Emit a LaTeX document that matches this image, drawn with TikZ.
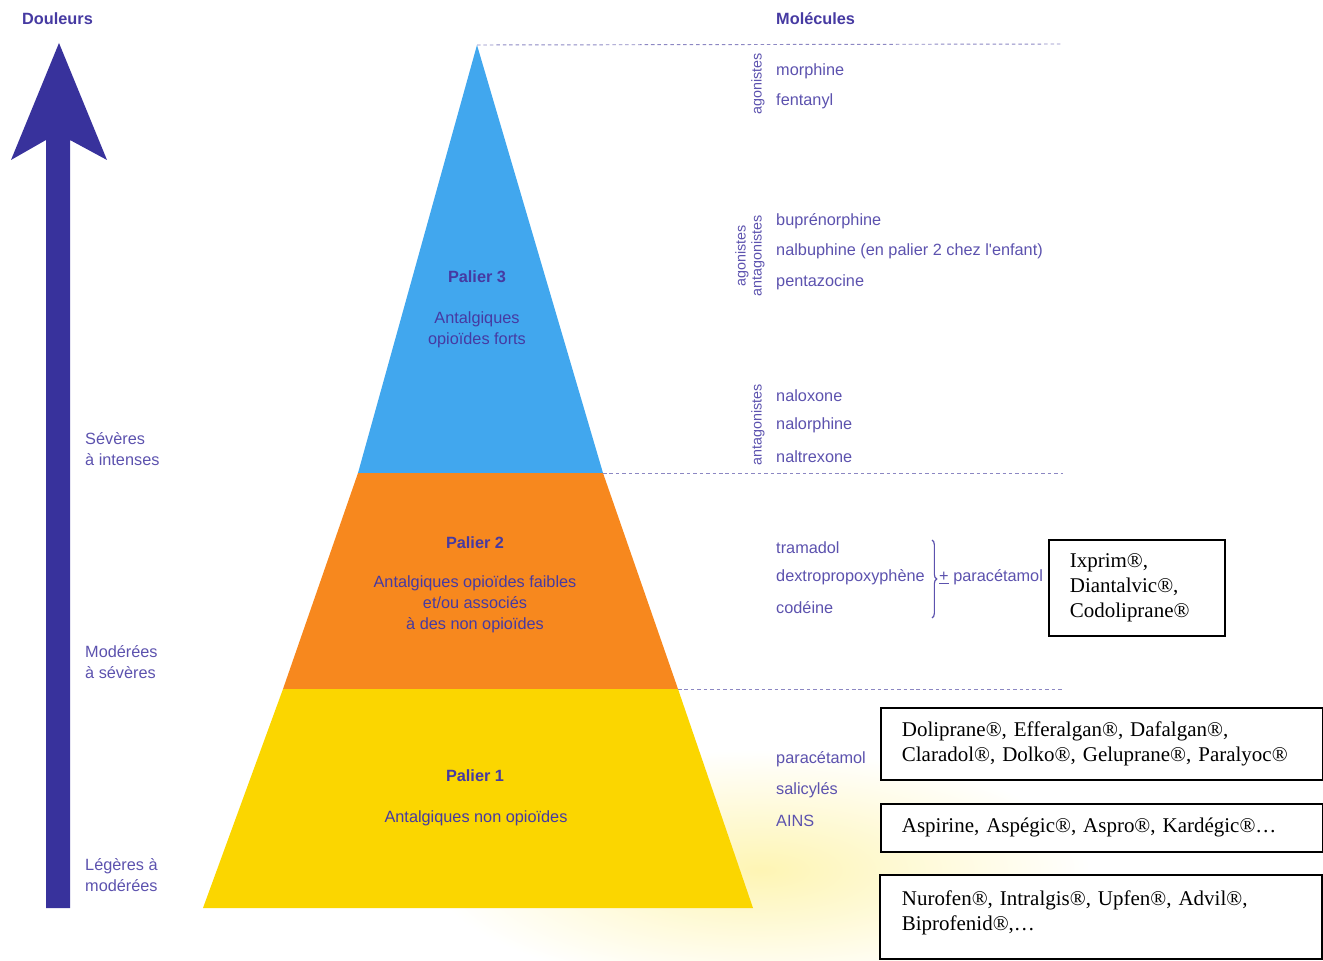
\documentclass[tikz,border=0pt]{standalone}
\usepackage{fontspec}
\setmainfont{Liberation Serif}
\setsansfont{Liberation Sans}
\usepackage{tikz}
\usetikzlibrary{decorations.pathreplacing}

\definecolor{arrowblue}{RGB}{56,50,156}
\definecolor{bluetier}{RGB}{65,167,238}
\definecolor{orangetier}{RGB}{247,136,30}
\definecolor{yellowtier}{RGB}{251,214,0}
\definecolor{glowyellow}{RGB}{254,245,180}
\definecolor{labcol}{RGB}{70,58,162}
\definecolor{molcol}{RGB}{92,82,174}
\definecolor{dashcol}{RGB}{140,135,195}

\newcommand{\molfnt}{\sffamily\fontsize{13.9}{17.9}\selectfont}
\newcommand{\rotfnt}{\sffamily\fontsize{12.2}{13.7}\selectfont}
\newcommand{\rxfnt}{\rmfamily\fontsize{17.9}{21.3}\selectfont}

\begin{document}
\begin{tikzpicture}[x=0.03cm, y=-0.03cm,
	molitem/.style={anchor=west, inner sep=0pt, yshift=-0.05cm, text=molcol, font=\molfnt},
	rotlbl/.style={rotate=90, inner sep=0pt, text=molcol, font=\rotfnt, align=center},
	paltitle/.style={inner sep=0pt, text=labcol, font=\molfnt\bfseries},
	paltext/.style={inner sep=0pt, text=labcol, font=\molfnt, align=center},
	sidelbl/.style={anchor=west, inner sep=0pt, text=molcol, font=\molfnt, align=left},
	colhead/.style={anchor=west, inner sep=0pt, text=labcol, font=\molfnt\bfseries},
	rxbox/.style={draw, line width=1.5pt, fill=white, anchor=north west, align=left, font=\rxfnt, inner xsep=0.63cm, inner ysep=2pt},
	dashln/.style={dashcol, dash pattern=on 3pt off 2.5pt, line width=0.8pt}]
	\useasboundingbox (0,0) rectangle (1323,961);

	% halo jaune
	\shade[inner color=glowyellow, outer color=white] (760,870) ellipse (330 and 120);

	% fleche douleurs
	\fill[arrowblue] (59,43) -- (107,160) -- (70,140) -- (70,908) -- (46,908) -- (46,140) -- (11,160) -- cycle;
	\node (douleurs) at (22,19) [colhead] {Douleurs};
	\node (severes) at (85,449) [sidelbl] {Sévères\\à intenses};
	\node (moderees) at (85,662) [sidelbl] {Modérées\\à sévères};
	\node (legeres) at (85,875) [sidelbl] {Légères à\\modérées};

	% pyramide
	\coordinate (ap) at (477,45);
	\coordinate (b3l) at (358,473);
	\coordinate (b3r) at (603,473);
	\coordinate (b2l) at (283,689);
	\coordinate (b2r) at (678,689);
	\coordinate (b1l) at (203,908);
	\coordinate (b1r) at (753,908);
	\fill[bluetier] (ap) -- (b3r) -- (b3l) -- cycle;
	\fill[orangetier] (b3l) -- (b3r) -- (b2r) -- (b2l) -- cycle;
	\fill[yellowtier] (b2l) -- (b2r) -- (b1r) -- (b1l) -- cycle;

	\node (p3) at (477,277) [paltitle] {Palier 3};
	\node (p3t) at (477,329.5) [paltext] {Antalgiques\\opioïdes forts};
	\node (p2) at (475,543) [paltitle] {Palier 2};
	\node (p2t) at (475,604.5) [paltext] {Antalgiques opioïdes faibles\\et/ou associés\\à des non opioïdes};
	\node (p1) at (475,776) [paltitle] {Palier 1};
	\node (p1t) at (476,818) [paltext] {Antalgiques non opioïdes};

	% separations
	\coordinate (d3) at (1063,44);
	\coordinate (d2) at (1063,473);
	\coordinate (d1) at (1063,689);
	\draw[dashln] (ap) -- (d3);
	\draw[dashln] (b3r) -- (d2);
	\draw[dashln] (b2r) -- (d1);

	% molecules
	\node (molec) at (776,19) [colhead] {Molécules};
	\node (ago) at (758,84) [rotlbl] {agonistes};
	\node (morph) at (776,70) [molitem] {morphine};
	\node (fenta) at (776,100) [molitem] {fentanyl};
	\node (agoant) at (750,256) [rotlbl] {agonistes\\antagonistes};
	\node (bupre) at (776,220) [molitem] {buprénorphine};
	\node (nalbu) at (776,250) [molitem] {nalbuphine (en palier 2 chez l\textquotesingle enfant)};
	\node (penta) at (776,281) [molitem] {pentazocine};
	\node (anta) at (758,425) [rotlbl] {antagonistes};
	\node (nalox) at (776,394) [molitem] {naloxone};
	\node (nalor) at (776,424) [molitem] {nalorphine};
	\node (naltr) at (776,455) [molitem] {naltrexone};

	\node (trama) at (776,546) [molitem] {tramadol};
	\node (dextro) at (776,576) [molitem] {dextropropoxyphène};
	\node (codei) at (776,606) [molitem] {codéine};
	\coordinate (brt) at (932,540);
	\coordinate (brb) at (932,618);
	\draw[molcol, line width=1pt, decorate, decoration={brace, amplitude=4pt}] (brt) -- (brb);
	\node (plusp) at (939,576) [molitem] {\underline{+} paracétamol};

	\node (parac) at (776,758) [molitem] {paracétamol};
	\node (salic) at (776,789) [molitem] {salicylés};
	\node (ains) at (776,819) [molitem] {AINS};

	% noms commerciaux
	\node (rxA) at (1048,539) [rxbox, text width=4.02cm, minimum height=2.88cm] {Ixprim®,\\Diantalvic®,\\Codoliprane®};
	\node (rxB) at (880,707) [rxbox, text width=12cm, minimum height=2.16cm] {Doliprane®, Efferalgan®, Dafalgan®,\\Claradol®, Dolko®, Geluprane®, Paralyoc®};
	\node (rxC) at (880,803) [rxbox, text width=12cm, minimum height=1.44cm] {Aspirine, Aspégic®, Aspro®, Kardégic®…};
	\filldraw[fill=white, line width=1.5pt] (880,875) rectangle (1322,959);
	\node (rxD) at (880,875) [rxbox, draw=none, fill=none, text width=12cm, inner ysep=0.44cm] {Nurofen®, Intralgis®, Upfen®, Advil®,\\Biprofenid®,…};
\end{tikzpicture}
\end{document}
